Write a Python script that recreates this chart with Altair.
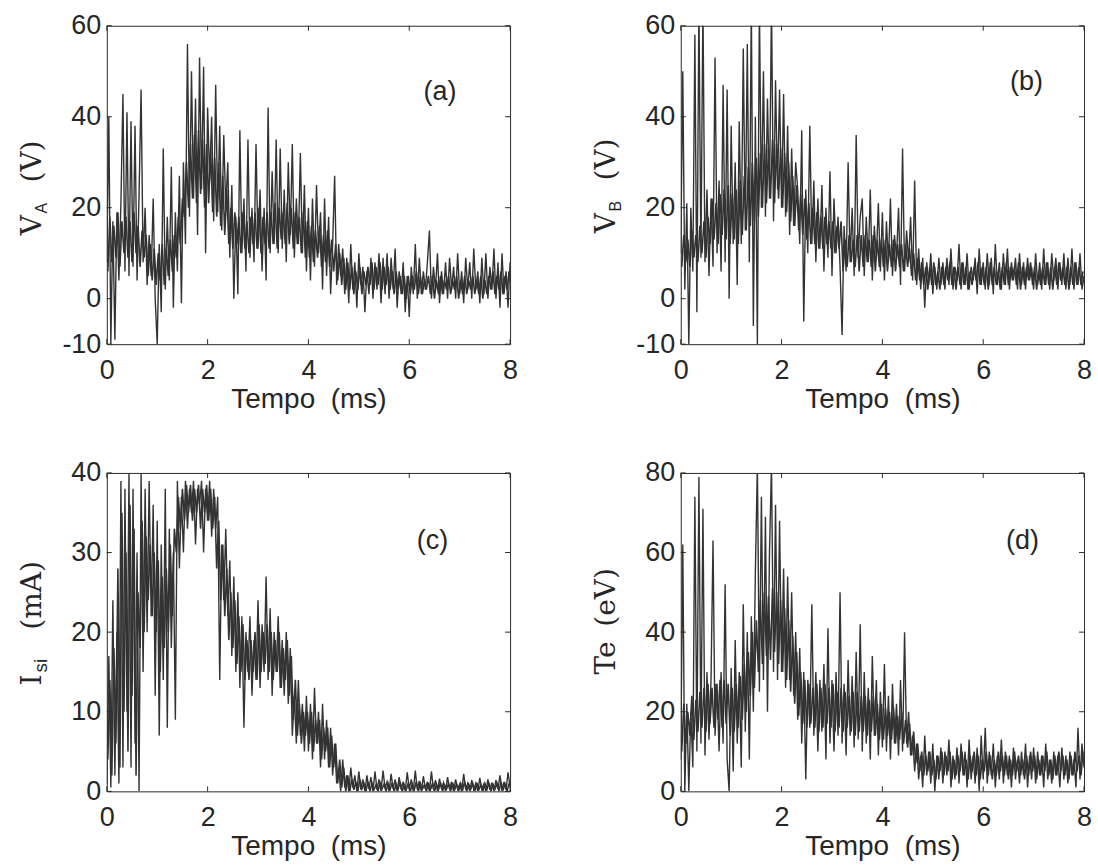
import altair as alt
import pandas as pd

# ---------------- data ----------------
# outer trace (spikes): 0.00 .. 8.00 ms every 0.04 ms (201 samples)
TIME = [round(i * 0.04, 2) for i in range(201)]
# dense core of each trace: 0.02 .. 7.98 ms every 0.04 ms (200 samples)
CORE_TIME = [round(0.02 + i * 0.04, 2) for i in range(200)]
X_TICKS = [0, 2, 4, 6, 8]

# (a) V_A (V)
VA = [
    8, 40, -10, 17, -9, 19, 4, 21, 45, 6,
    41, 5, 39, 7, 38, 4, 23, 46, 8, 20,
    3, 14, 5, 22, 0, -10, 12, -3, 33, 2,
    18, 4, 29, -2, 19, 6, 27, -1, 30, 12,
    56, 18, 50, 22, 44, 14, 53, 24, 51, 10,
    42, 26, 40, 17, 47, 19, 38, 15, 36, 20,
    30, 9, 25, 0, 18, 1, 37, 10, 22, 6,
    35, 9, 20, 8, 34, 11, 24, 6, 20, 4,
    42, 10, 28, 12, 35, 10, 33, 11, 24, 8,
    30, 14, 34, 9, 22, 12, 32, 10, 25, 6,
    20, 4, 22, 7, 25, 10, 19, 2, 22, 5,
    18, 1, 12, 27, 3, 12, 5, 11, 1, 9,
    -1, 12, 2, 8, -2, 10, 3, 7, -3, 6,
    1, 9, 0, 8, 2, 10, -1, 9, 1, 10,
    0, 9, 2, 11, -2, 6, 1, 8, -3, 5,
    -4, 7, 1, 12, 0, 9, 1, 6, 2, 8,
    15, 0, 7, 2, 10, -1, 6, 1, 8, 0,
    9, 2, 7, 0, 10, 1, 6, -1, 9, 2,
    8, 0, 11, 2, 6, -1, 9, 1, 10, 0,
    7, 2, 11, 0, 8, -2, 10, 1, 6, -2,
    8,
]
VA_CORE = [
    6, 18, 8, 16, 9, 19, 7, 17, 10, 18,
    9, 17, 8, 19, 10, 16, 7, 15, 9, 14,
    5, 12, 4, 11, 3, 10, 4, 12, 3, 11,
    5, 13, 6, 14, 9, 18, 12, 22, 18, 30,
    20, 34, 22, 36, 21, 37, 23, 35, 20, 34,
    21, 33, 19, 31, 18, 30, 16, 27, 14, 24,
    12, 20, 11, 19, 12, 18, 10, 19, 11, 17,
    10, 18, 12, 19, 11, 20, 10, 18, 12, 19,
    11, 19, 12, 21, 11, 20, 13, 19, 12, 21,
    12, 20, 11, 19, 12, 18, 10, 19, 9, 17,
    9, 16, 8, 15, 9, 16, 7, 14, 8, 15,
    7, 13, 6, 12, 4, 10, 3, 9, 2, 8,
    2, 7, 1, 6, 2, 7, 1, 6, 3, 7,
    3, 8, 2, 7, 3, 8, 2, 7, 3, 7,
    2, 6, 1, 6, 2, 5, 1, 5, 0, 5,
    1, 5, 2, 6, 1, 5, 1, 4, 2, 5,
    1, 5, 0, 4, 1, 5, 1, 4, 2, 5,
    1, 4, 2, 5, 0, 4, 1, 5, 1, 4,
    2, 5, 1, 4, 1, 5, 0, 4, 1, 5,
    2, 6, 1, 5, 2, 6, 1, 5, 2, 6,
]

# (b) V_B (V)
VB = [
    10, 50, 2, 21, -10, 20, 6, 58, -3, 65,
    9, 65, 8, 24, 5, 22, 7, 53, 10, 26,
    6, 47, 8, 46, 0, 38, 12, 30, 3, 39,
    12, 55, 15, 56, 8, 65, -6, 40, -10, 65,
    20, 50, 18, 44, 22, 65, 17, 48, 24, 46,
    20, 45, 18, 38, 14, 33, 16, 30, 24, 12,
    37, -5, 24, 10, 38, 12, 26, 8, 22, 11,
    25, 6, 20, 9, 28, 5, 22, 10, 18, 7,
    -8, 16, 6, 30, 8, 20, 5, 36, 9, 18,
    22, 5, 18, 8, 24, 4, 16, 9, 21, 6,
    19, 4, 17, 8, 22, 5, 14, 9, 20, 3,
    33, 6, 15, 8, 18, 4, 26, 3, 11, 2,
    9, -2, 8, 3, 10, 1, 7, 2, 9, 3,
    8, 2, 9, 3, 11, 2, 7, 4, 12, 2,
    8, 3, 10, 2, 7, 4, 9, 1, 11, 3,
    8, 2, 10, 3, 9, 1, 12, 3, 8, 2,
    10, 3, 11, 2, 8, 4, 9, 2, 10, 3,
    8, 2, 9, 4, 7, 2, 10, 3, 8, 2,
    11, 3, 8, 2, 10, 4, 9, 2, 8, 3,
    10, 2, 9, 3, 11, 2, 8, 3, 10, 2,
    5,
]
VB_CORE = [
    7, 14, 8, 13, 7, 15, 9, 14, 8, 16,
    10, 17, 9, 18, 12, 22, 13, 21, 12, 23,
    14, 24, 13, 25, 12, 23, 13, 24, 12, 26,
    14, 27, 15, 29, 16, 30, 17, 31, 18, 32,
    20, 34, 21, 33, 22, 35, 21, 34, 22, 33,
    20, 32, 19, 30, 17, 27, 16, 25, 15, 23,
    14, 22, 13, 21, 12, 20, 12, 19, 11, 18,
    11, 18, 12, 17, 11, 17, 10, 16, 11, 17,
    6, 13, 7, 14, 8, 13, 7, 14, 6, 14,
    7, 14, 8, 13, 7, 14, 6, 13, 7, 13,
    7, 13, 6, 12, 7, 13, 6, 12, 7, 12,
    6, 12, 7, 11, 5, 10, 4, 9, 4, 8,
    3, 7, 2, 7, 3, 8, 3, 6, 2, 7,
    3, 7, 4, 8, 3, 7, 2, 7, 3, 8,
    3, 7, 2, 6, 3, 7, 4, 8, 3, 7,
    3, 7, 2, 8, 3, 7, 3, 6, 2, 7,
    3, 8, 3, 7, 4, 7, 3, 8, 2, 7,
    3, 7, 4, 8, 3, 7, 2, 6, 3, 7,
    3, 8, 3, 7, 2, 7, 3, 8, 4, 7,
    3, 7, 2, 7, 3, 8, 3, 7, 3, 6,
]

# (c) I_si (mA)
ISI = [
    1, 17, 0.5, 24, 2, 20, 1, 39, 3, 38,
    10, 40, 3, 38, 6, 30, 0, 40, 15, 38,
    20, 39, 22, 36, 12, 34, 7, 31, 14, 38,
    8, 33, 18, 30, 9, 39, 28, 37, 30, 39,
    33, 38, 35, 39, 31, 38, 36, 39, 30, 38,
    34, 39, 32, 38, 33, 37, 14, 31, 24, 33,
    22, 29, 17, 27, 15, 25, 13, 22, 8, 20,
    15, 22, 12, 19, 14, 24, 13, 21, 15, 27,
    14, 23, 12, 20, 15, 22, 13, 19, 12, 20,
    11, 18, 7, 12, 6, 14, 7, 11, 5, 12,
    5, 11, 4, 13, 6, 10, 3, 11, 4, 9,
    3, 8, 2, 6, 1, 3, 0, 4, 0.5, 2,
    0, 3, 0.5, 2, 0, 2.5, 0.2, 1.5, 0, 2,
    0.3, 1.8, 0, 2.5, 0.2, 1.5, 0, 2.6, 0.4, 1.2,
    0, 2.2, 0.3, 1.5, 0, 1.8, 0.2, 1.2, 0, 2.4,
    0.3, 1.5, 0, 2.6, 0.2, 1.3, 0, 1.9, 0.3, 1.2,
    0, 2.5, 0.2, 1.4, 0, 1.6, 0.3, 1.1, 0, 1.8,
    0.2, 1.2, 0, 1.5, 0.3, 0.9, 0, 2.2, 0.2, 1.0,
    0, 1.4, 0.2, 1.0, 0, 1.7, 0.3, 0.9, 0, 1.5,
    0.2, 1.1, 0, 1.4, 0.3, 2.0, 0, 1.2, 0.2, 2.4,
    0.5,
]
ISI_CORE = [
    4, 14, 2, 18, 6, 28, 3, 35, 10, 30,
    5, 36, 12, 33, 2, 25, 18, 34, 20, 32,
    24, 31, 22, 30, 20, 29, 15, 27, 18, 28,
    20, 31, 22, 33, 30, 37, 33, 38, 34, 38.5,
    35, 38.5, 34, 38, 35, 38.5, 33, 38, 35, 38.5,
    34, 38, 33, 37, 28, 34, 24, 31, 22, 28,
    19, 25, 18, 24, 16, 22, 15, 21, 14, 19,
    14, 19, 15, 20, 14, 21, 15, 20, 16, 21,
    15, 20, 14, 19, 15, 20, 13, 18, 14, 19,
    12, 17, 9, 14, 7, 11, 6, 10, 7, 10,
    6, 10, 5, 9, 6, 9, 4, 8, 5, 8,
    3, 7, 3, 6, 1, 4, 0.5, 3, 0, 2,
    0, 1.5, 0.2, 1.2, 0, 1.5, 0.3, 1.0, 0, 1.2,
    0, 1.0, 0.2, 0.8, 0, 1.1, 0.3, 0.9, 0, 1.0,
    0.2, 1.1, 0, 0.9, 0.3, 1.2, 0, 0.8, 0.2, 1.0,
    0, 0.9, 0.2, 1.2, 0, 1.0, 0.3, 0.8, 0, 1.1,
    0.2, 1.0, 0, 0.9, 0.2, 1.1, 0, 0.8, 0.3, 1.0,
    0, 1.1, 0.2, 0.9, 0, 1.0, 0.2, 1.2, 0, 0.9,
    0.3, 1.0, 0, 1.1, 0.2, 0.8, 0, 1.0, 0.2, 1.1,
    0, 0.9, 0.3, 1.0, 0, 1.2, 0.2, 0.9, 0, 1.0,
]

# (d) Te (eV)
TE = [
    8, 62, 0, 22, 0, 20, 6, 74, 10, 79,
    12, 71, 9, 30, 13, 28, 63, 14, 27, 10,
    30, 12, 52, 8, 0, 31, 5, 38, 12, 30,
    6, 47, 15, 40, 8, 44, 20, 55, 82, 25,
    74, 28, 69, 20, 60, 82, 30, 72, 28, 68,
    30, 56, 26, 54, 28, 50, 24, 40, 18, 36,
    12, 30, 3, 28, 16, 47, 14, 30, 10, 28,
    15, 32, 8, 41, 12, 28, 10, 30, 14, 50,
    12, 27, 9, 33, 14, 29, 11, 35, 13, 42,
    10, 30, 12, 26, 8, 34, 14, 28, 9, 25,
    11, 32, 10, 24, 8, 27, 12, 22, 9, 28,
    10, 40, 12, 20, 9, 14, 5, 12, 3, 9,
    1, 14, 4, 10, 2, 12, 0, 9, 3, 11,
    2, 10, 4, 13, 1, 9, 3, 11, 2, 12,
    4, 10, 1, 13, 3, 9, 2, 11, 0, 14,
    3, 16, 2, 10, 4, 12, 1, 9, 3, 13,
    2, 10, 4, 9, 1, 11, 3, 8, 2, 10,
    4, 12, 1, 9, 3, 11, 2, 10, 4, 9,
    1, 12, 3, 8, 2, 10, 4, 9, 1, 11,
    3, 9, 2, 10, 4, 8, 1, 16, 3, 12,
    6,
]
TE_CORE = [
    10, 22, 12, 20, 14, 24, 13, 23, 15, 25,
    16, 26, 15, 27, 17, 26, 16, 27, 18, 28,
    16, 28, 17, 27, 14, 26, 15, 27, 16, 29,
    18, 32, 20, 35, 24, 40, 26, 43, 30, 48,
    32, 50, 34, 49, 33, 51, 35, 50, 32, 48,
    30, 46, 28, 43, 25, 39, 22, 35, 19, 30,
    17, 28, 16, 27, 17, 26, 16, 27, 15, 26,
    16, 27, 17, 26, 16, 27, 15, 25, 16, 26,
    15, 25, 16, 24, 15, 25, 14, 25, 15, 24,
    15, 24, 14, 23, 15, 24, 14, 22, 13, 22,
    13, 21, 14, 20, 13, 21, 12, 19, 13, 20,
    12, 18, 11, 17, 9, 15, 7, 12, 5, 10,
    4, 9, 5, 10, 4, 8, 3, 9, 5, 10,
    4, 9, 5, 10, 3, 8, 4, 9, 5, 10,
    4, 8, 3, 9, 5, 10, 4, 9, 3, 8,
    5, 10, 4, 9, 3, 8, 4, 10, 5, 9,
    4, 9, 3, 8, 4, 10, 5, 9, 4, 8,
    3, 9, 4, 10, 5, 9, 3, 8, 4, 9,
    5, 10, 4, 8, 3, 9, 4, 10, 5, 9,
    4, 8, 3, 9, 4, 10, 5, 9, 4, 10,
]

PANELS = [
    dict(vals=VA, core=VA_CORE, dom=[-10, 60], ticks=[-10, 0, 20, 40, 60], label="(a)",
         lt=6.61, lv=45.5,
         title=[("V", 210, 0, "serif", 28), ("A", 188, 6, "sans", 16), ("(V)", 157, 0, "serif", 28)]),
    dict(vals=VB, core=VB_CORE, dom=[-10, 60], ticks=[-10, 0, 20, 40, 60], label="(b)",
         lt=6.86, lv=47.7,
         title=[("V", 208, 0, "serif", 28), ("B", 186, 6, "sans", 16), ("(V)", 155, 0, "serif", 28)]),
    dict(vals=ISI, core=ISI_CORE, dom=[0, 40], ticks=[0, 10, 20, 30, 40], label="(c)",
         lt=6.46, lv=31.4,
         title=[("I", 213, 0, "serif", 28), ("si", 200, 6, "sans", 19), ("(mA)", 157, 0, "serif", 28)]),
    dict(vals=TE, core=TE_CORE, dom=[0, 80], ticks=[0, 20, 40, 60, 80], label="(d)",
         lt=6.78, lv=63,
         title=[("Te", 202, 0, "serif", 28), ("(eV)", 154, 0, "serif", 28)]),
]

# ---------------- style ----------------
W, H = 404, 319
LINE = "#333333"
AX = "#2a2a2a"
TXT = "#262626"
SANS = "Liberation Sans"
SERIF = "DejaVu Serif"
TICK = 5


def panel(p):
    df = pd.DataFrame({"t": TIME, "v": p["vals"]})
    core = pd.DataFrame({"t": CORE_TIME, "v": p["core"]})
    xenc = alt.X("t:Q", scale=alt.Scale(domain=[0, 8], nice=False, zero=False),
                 axis=alt.Axis(values=X_TICKS, title="Tempo\u00a0\u00a0(ms)", labelFlush=False,
                               domain=False, ticks=False, grid=False, labelPadding=13,
                               labelFont=SANS, labelFontSize=27, labelColor=TXT,
                               titleFont=SANS, titleFontSize=28, titleFontWeight="normal",
                               titleColor=TXT, titlePadding=2, labelExpr="'' + datum.value"))
    yenc = alt.Y("v:Q", scale=alt.Scale(domain=p["dom"], nice=False, zero=False),
                 axis=alt.Axis(values=p["ticks"], title=None, domain=False, ticks=False,
                               grid=False, labelPadding=6, labelFont=SANS, labelFontSize=27,
                               labelColor=TXT, labelExpr="'' + datum.value"))
    core_line = alt.Chart(core).mark_line(color=LINE, strokeWidth=1.6, clip=True).encode(
        x=xenc, y=yenc)
    line = alt.Chart(df).mark_line(color=LINE, strokeWidth=1.4, clip=True).encode(x=xenc, y=yenc)

    xt = pd.DataFrame({"t": X_TICKS})
    yt = pd.DataFrame({"v": p["ticks"]})
    rule = dict(color=AX, strokeWidth=1)
    xb = alt.Chart(xt).mark_rule(**rule).encode(x=xenc, y=alt.value(H), y2=alt.value(H - TICK))
    xtop = alt.Chart(xt).mark_rule(**rule).encode(x=xenc, y=alt.value(0), y2=alt.value(TICK))
    yl = alt.Chart(yt).mark_rule(**rule).encode(y=yenc, x=alt.value(0), x2=alt.value(TICK))
    yr = alt.Chart(yt).mark_rule(**rule).encode(y=yenc, x=alt.value(W), x2=alt.value(W - TICK))

    lab = alt.Chart(pd.DataFrame({"t": [p["lt"]], "v": [p["lv"]], "s": [p["label"]]})).mark_text(
        font=SANS, fontSize=27, color=TXT, align="center", baseline="middle"
    ).encode(x=xenc, y=yenc, text="s:N")

    titles = []
    for txt, y0, dx, fam, size in p["title"]:
        titles.append(
            alt.Chart(pd.DataFrame({"s": [txt]})).mark_text(
                angle=270, align="left", baseline="alphabetic",
                font=SERIF if fam == "serif" else SANS, fontSize=size, color=TXT
            ).encode(x=alt.value(-66 + dx), y=alt.value(y0), text="s:N")
        )
    return alt.layer(core_line, line, xb, xtop, yl, yr, lab, *titles).properties(width=W, height=H)


chart = alt.concat(
    *[panel(p) for p in PANELS],
    columns=2,
    spacing={"row": 129, "column": 171},
    bounds="flush",
).properties(
    padding={"left": 18, "top": 10, "right": 5, "bottom": 5},
    background="white",
).configure_view(stroke=AX, strokeWidth=1)

chart.save("out.html", embed_options={"renderer": "svg", "actions": False})
